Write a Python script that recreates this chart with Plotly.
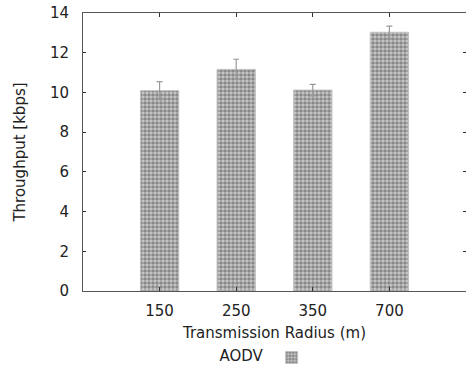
import plotly.graph_objects as go

categories = ["150", "250", "350", "700"]
throughput = [10.09, 11.16, 10.12, 13.03]
error = [0.45, 0.51, 0.29, 0.31]
y_ticks = [0, 2, 4, 6, 8, 10, 12, 14]

fig = go.Figure()
fig.add_trace(go.Bar(
    x=categories, y=throughput, name=" ", width=0.5,
    marker=dict(color="#8a8a8a", line=dict(color="#c0c0c0", width=1),
                pattern=dict(shape=".", fgcolor="#454545", bgcolor="#cccccc", size=4, solidity=0.65)),
    error_y=dict(type="data", array=error, color="#999999", thickness=1.2, width=3),
))

font = dict(family="DejaVu Sans", size=15, color="#222222")
fig.update_layout(
    width=466, height=367,
    margin=dict(l=83, r=0, t=13, b=76, autoexpand=False),
    paper_bgcolor="white", plot_bgcolor="white",
    font=font,
    showlegend=True,
    legend=dict(orientation="h", x=0.487, xanchor="center", y=-0.24, yanchor="middle",
                title=dict(text="AODV", side="left", font=font), font=font),
    xaxis=dict(type="category", range=[-1, 4], showline=True, linecolor="#555555", mirror="ticks",
               ticks="inside", ticklen=4, tickcolor="#333333", showgrid=False, automargin=False,
               ticklabelstandoff=6, ticklabeloverflow="allow",
               title=dict(text="Transmission Radius (m)", standoff=8, font=font), tickfont=font),
    yaxis=dict(range=[0, 14], tickvals=y_ticks, showline=True, linecolor="#555555", mirror="ticks",
               ticks="inside", ticklen=3, tickcolor="#333333", showgrid=False, zeroline=False, automargin=False,
               ticklabelstandoff=10, ticklabeloverflow="allow",
               title=dict(text="Throughput [kbps]", standoff=20, font=font), tickfont=font),
)
fig.write_html("out.html", config={"displayModeBar": False},
               post_script="document.body.style.margin='0';document.body.style.overflow='hidden';")
